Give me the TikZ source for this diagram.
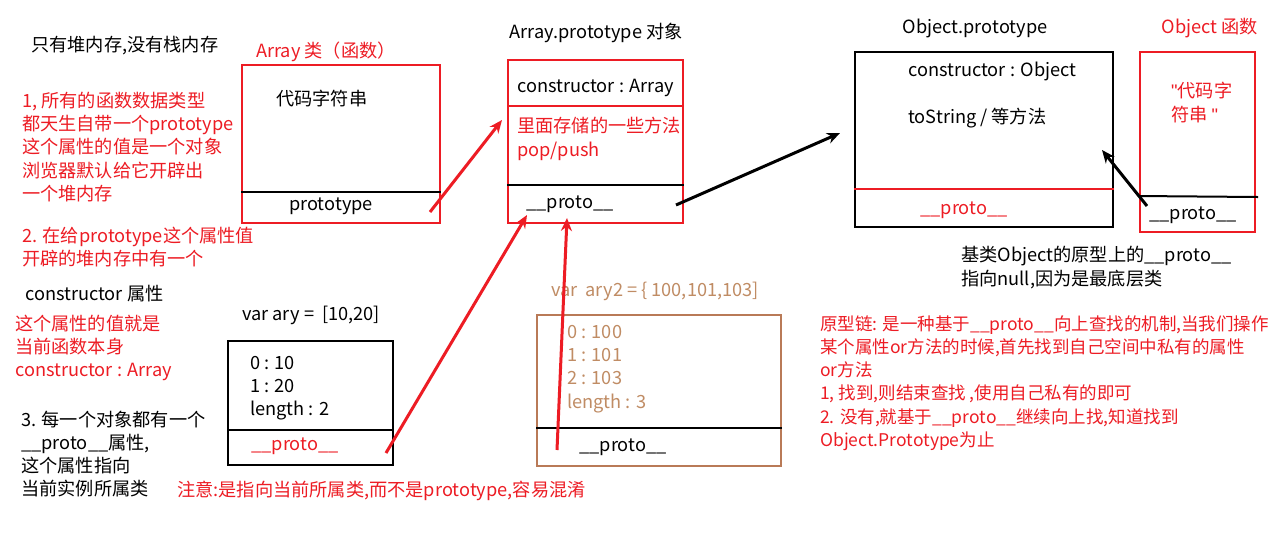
\documentclass[tikz,border=0pt]{standalone}
\usepackage{fontspec}
\setmainfont{Noto Sans CJK SC}
\newfontfamily\latf{Liberation Sans}
\usetikzlibrary{arrows.meta}
\definecolor{pred}{HTML}{ED1C24}
\definecolor{pbrown}{HTML}{B97A57}
\definecolor{tbrown}{HTML}{C08C64}
\newcommand{\fs}{\fontsize{18.2}{23.3}\selectfont}
\newcommand{\uu}{\_\_}
\newcommand{\dq}{{\latf\symbol{34}}}
\begin{document}
\begin{tikzpicture}[x=1pt,y=-1pt,
  txt/.style={anchor=west,inner sep=0pt,font=\fs,align=left},
  ctxt/.style={inner sep=0pt,font=\fs,align=center},
  box/.style={draw=#1,line width=2pt,inner sep=0pt},
  divider/.style={line width=2pt},
  arr/.style={line width=3pt,-{Stealth[length=13pt,width=11pt]}}]
\useasboundingbox[fill=white] (0,0) rectangle (1277,542);

% ---------- left notes ----------
\node[txt] (n0) at (31,46) {只有堆内存,没有栈内存};
\node[txt,text=pred] (n1) at (22,147) {1, 所有的函数数据类型\\都天生自带一个prototype\\这个属性的值是一个对象\\浏览器默认给它开辟出\\一个堆内存};
\node[txt,text=pred] (n2) at (22,247) {2. 在给prototype这个属性值\\开辟的堆内存中有一个};
\node[txt] (n3) at (25,294) {constructor 属性};
\node[txt,text=pred] (n4) at (15,348) {这个属性的值就是\\当前函数本身\\constructor : Array};
\node[txt] (n5) at (21,454) {3. 每一个对象都有一个\\\uu proto\uu 属性,\\这个属性指向\\当前实例所属类};

% ---------- Array function box ----------
\node[ctxt,text=pred] (arrtitle) at (326,52) {Array 类（函数）};
\node[box=pred,minimum width=198pt,minimum height=158pt] (arrbox) at (341,144) {};
\draw[divider] (arrbox.west |- 0,192) -- (arrbox.east |- 0,192);
\node[txt] (arrcode) at (276,99) {代码字符串};
\node[ctxt] (arrproto) at (331,206) {prototype};

% ---------- Array.prototype box ----------
\node[ctxt] (aptitle) at (596,33) {Array.prototype 对象};
\node[box=pred,minimum width=175pt,minimum height=163pt] (apbox) at (595.5,141.5) {};
\draw[divider,pred] (apbox.west |- 0,106) -- (apbox.east |- 0,106);
\draw[divider] (apbox.west |- 0,185) -- (apbox.east |- 0,185);
\node[txt] (apcons) at (517,88) {constructor : Array};
\node[txt,text=pred] (apmeth) at (517,139) {里面存储的一些方法\\pop/push};
\node[ctxt] (approto) at (570,204) {\uu proto\uu};

% ---------- Object.prototype box ----------
\node[ctxt] (optitle) at (975,28) {Object.prototype};
\node[box=black,minimum width=258pt,minimum height=175pt] (opbox) at (984,139.5) {};
\draw[divider,pred] (opbox.west |- 0,189) -- (opbox.east |- 0,189);
\node[txt] (opcons) at (908,71) {constructor : Object};
\node[txt] (opts) at (908,118) {toString / 等方法};
\node[ctxt,text=pred] (opproto) at (964,210) {\uu proto\uu};
\node[txt] (opnote) at (961,267.5) {基类Object的原型上的\uu proto\uu\\指向null,因为是最底层类};

% ---------- Object function box ----------
\node[ctxt,text=pred] (oftitle) at (1210,28) {Object 函数};
\node[box=pred,minimum width=115pt,minimum height=180pt] (ofbox) at (1197.5,142) {};
\draw[divider] (1138,196) -- (1258,197);
\node[txt,text=pred] (ofcode) at (1171,102.5) {\dq 代码字\\符串 \dq};
\node[ctxt] (ofproto) at (1193,215) {\uu proto\uu};

% ---------- ary instance ----------
\node[txt] (arytitle) at (242,315) {var ary = \ [10,20]};
\node[box=black,minimum width=165pt,minimum height=124pt] (arybox) at (310.5,403) {};
\draw[divider] (arybox.west |- 0,430) -- (arybox.east |- 0,430);
\node[txt] (aryvals) at (250,388) {0 : 10\\1 : 20\\length : 2};
\node[ctxt,text=pred] (aryproto) at (295,446) {\uu proto\uu};
\node[txt,text=pred] (note) at (177,491) {注意:是指向当前所属类,而不是prototype,容易混淆};

% ---------- ary2 instance ----------
\node[txt,text=tbrown] (ary2title) at (551,291) {var\ \ ary2 = \{ 100,101,103]};
\node[box=pbrown,minimum width=244pt,minimum height=151pt] (ary2box) at (659,390.5) {};
\draw[divider] (ary2box.west |- 0,428) -- (ary2box.east |- 0,428);
\node[txt,text=tbrown] (ary2vals) at (567,369) {0 : 100\\1 : 101\\2 : 103\\length : 3};
\node[ctxt] (ary2proto) at (623,447) {\uu proto\uu};

% ---------- right notes ----------
\node[txt,text=pred,font=\fontsize{17.5}{23.3}\selectfont] (chain) at (820,383) {原型链: 是一种基于\uu proto\uu 向上查找的机制,当我们操作\\某个属性or方法的时候,首先找到自己空间中私有的属性\\or方法\\1, 找到,则结束查找 ,使用自己私有的即可\\2. 没有,就基于\uu proto\uu 继续向上找,知道找到\\Object.Prototype为止};

% ---------- arrows ----------
\coordinate (a1s) at (430,212);
\coordinate (a1e) at (502,120);
\coordinate (a2s) at (386,453);
\coordinate (a2e) at (527,215);
\coordinate (a3s) at (557,450);
\coordinate (a3e) at (567,218);
\coordinate (a4s) at (676,205);
\coordinate (a4e) at (840,133);
\coordinate (a5s) at (1147,206);
\coordinate (a5e) at (1102,150);
\draw[arr,pred] (a1s) -- (a1e);
\draw[arr,pred] (a2s) -- (a2e);
\draw[arr,pred] (a3s) -- (a3e);
\draw[arr] (a4s) -- (a4e);
\draw[arr] (a5s) -- (a5e);
\end{tikzpicture}
\end{document}
